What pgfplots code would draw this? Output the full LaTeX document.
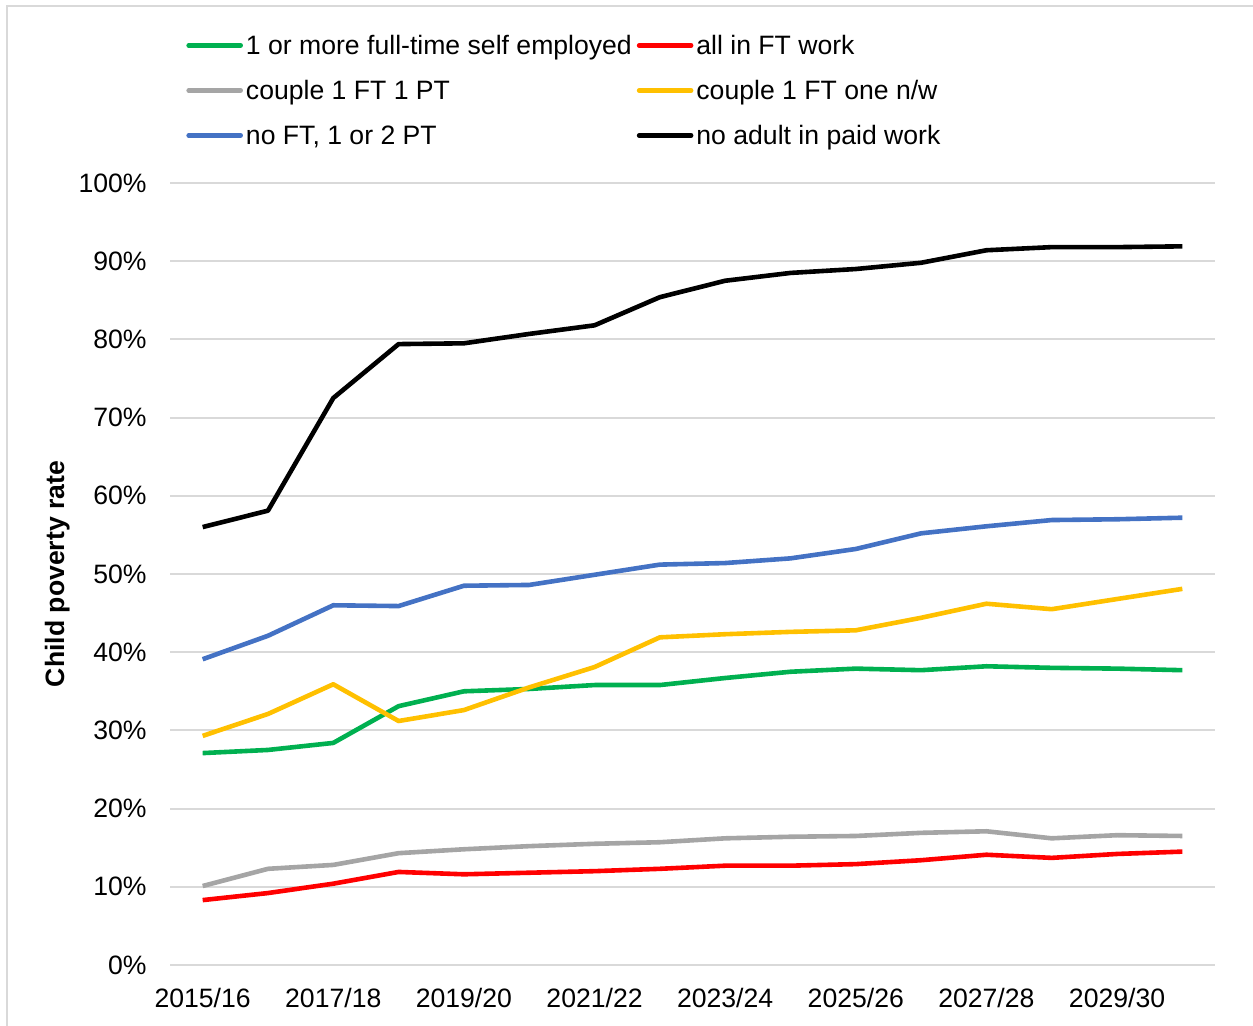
\documentclass[border=0pt]{standalone}
\usepackage{pgfplots}
\pgfplotsset{compat=1.18}
\usepackage{fontspec}
\setmainfont{Liberation Sans}
\definecolor{cgreen}{HTML}{00B050}
\definecolor{cred}{HTML}{FF0000}
\definecolor{cgray}{HTML}{A5A5A5}
\definecolor{cyellow}{HTML}{FFC000}
\definecolor{cblue}{HTML}{4472C4}
\definecolor{gridc}{HTML}{D9D9D9}
\begin{document}
\begin{tikzpicture}
\begin{axis}[
  at={(85pt,30pt)}, anchor=south west,
  scale only axis, width=522.5pt, height=391pt,
  font=\fontsize{13.3}{15.8}\selectfont,
  xmin=-0.5, xmax=15.5, ymin=0, ymax=100,
  xtick={0,2,...,14},
  xticklabels={2015/16,2017/18,2019/20,2021/22,2023/24,2025/26,2027/28,2029/30},
  ytick={0,10,...,100},
  yticklabels={0\%,10\%,20\%,30\%,40\%,50\%,60\%,70\%,80\%,90\%,100\%},
  axis line style={draw=none},
  major tick length=0pt, tick style={draw=none},
  ymajorgrids, major grid style={gridc, line width=1pt},
  yticklabel style={anchor=east, inner sep=0pt, xshift=-11.5pt},
  xticklabel style={anchor=north, inner sep=0pt, yshift=-11.2pt},
  ylabel={\bfseries Child poverty rate},
  ylabel style={at={(axis description cs:-0.108,0.5)}, anchor=center},
  legend columns=2,
  legend cell align=left,
  legend image code/.code={\draw[#1, line cap=round] (0pt,0pt) -- (26pt,0pt);},
  legend style={at={(axis description cs:0.0153,1.1886)}, anchor=north west,
    draw=none, fill=none, inner sep=0pt, column sep=0pt, row sep=13pt,
    font=\fontsize{13.3}{15.8}\selectfont,
    nodes={inner xsep=1.5pt, inner ysep=0pt, text height=9.5pt, text depth=0pt},
    /tikz/every even column/.append style={column sep=1pt}},
  every axis plot/.append style={line width=2.3pt, line join=round},
]
\addplot[cgreen] coordinates {(0,27.1)(1,27.5)(2,28.4)(3,33.1)(4,35.0)(5,35.3)(6,35.8)(7,35.8)(8,36.7)(9,37.5)(10,37.9)(11,37.7)(12,38.2)(13,38.0)(14,37.9)(15,37.7)};
\addlegendentry{1 or more full-time self employed}
\addplot[cred] coordinates {(0,8.3)(1,9.2)(2,10.4)(3,11.9)(4,11.6)(5,11.8)(6,12.0)(7,12.3)(8,12.7)(9,12.7)(10,12.9)(11,13.4)(12,14.1)(13,13.7)(14,14.2)(15,14.5)};
\addlegendentry{all in FT work}
\addplot[cgray] coordinates {(0,10.1)(1,12.3)(2,12.8)(3,14.3)(4,14.8)(5,15.2)(6,15.5)(7,15.7)(8,16.2)(9,16.4)(10,16.5)(11,16.9)(12,17.1)(13,16.2)(14,16.6)(15,16.5)};
\addlegendentry{couple 1 FT 1 PT}
\addplot[cyellow] coordinates {(0,29.3)(1,32.1)(2,35.9)(3,31.2)(4,32.6)(5,35.5)(6,38.1)(7,41.9)(8,42.3)(9,42.6)(10,42.8)(11,44.4)(12,46.2)(13,45.5)(14,46.8)(15,48.1)};
\addlegendentry{couple 1 FT one n/w}
\addplot[cblue] coordinates {(0,39.1)(1,42.1)(2,46.0)(3,45.9)(4,48.5)(5,48.6)(6,49.9)(7,51.2)(8,51.4)(9,52.0)(10,53.2)(11,55.2)(12,56.1)(13,56.9)(14,57.0)(15,57.2)};
\addlegendentry{no FT, 1 or 2 PT}
\addplot[black] coordinates {(0,56.0)(1,58.1)(2,72.5)(3,79.4)(4,79.5)(5,80.7)(6,81.8)(7,85.4)(8,87.5)(9,88.5)(10,89.0)(11,89.8)(12,91.4)(13,91.8)(14,91.8)(15,91.9)};
\addlegendentry{no adult in paid work}
\end{axis}
\draw[gridc, line width=1pt] (3.5pt,-20pt) rectangle (700pt,509.5pt);
\pgfresetboundingbox
\path[use as bounding box] (0,0) rectangle (626.5pt,512.5pt);
\end{tikzpicture}
\end{document}
